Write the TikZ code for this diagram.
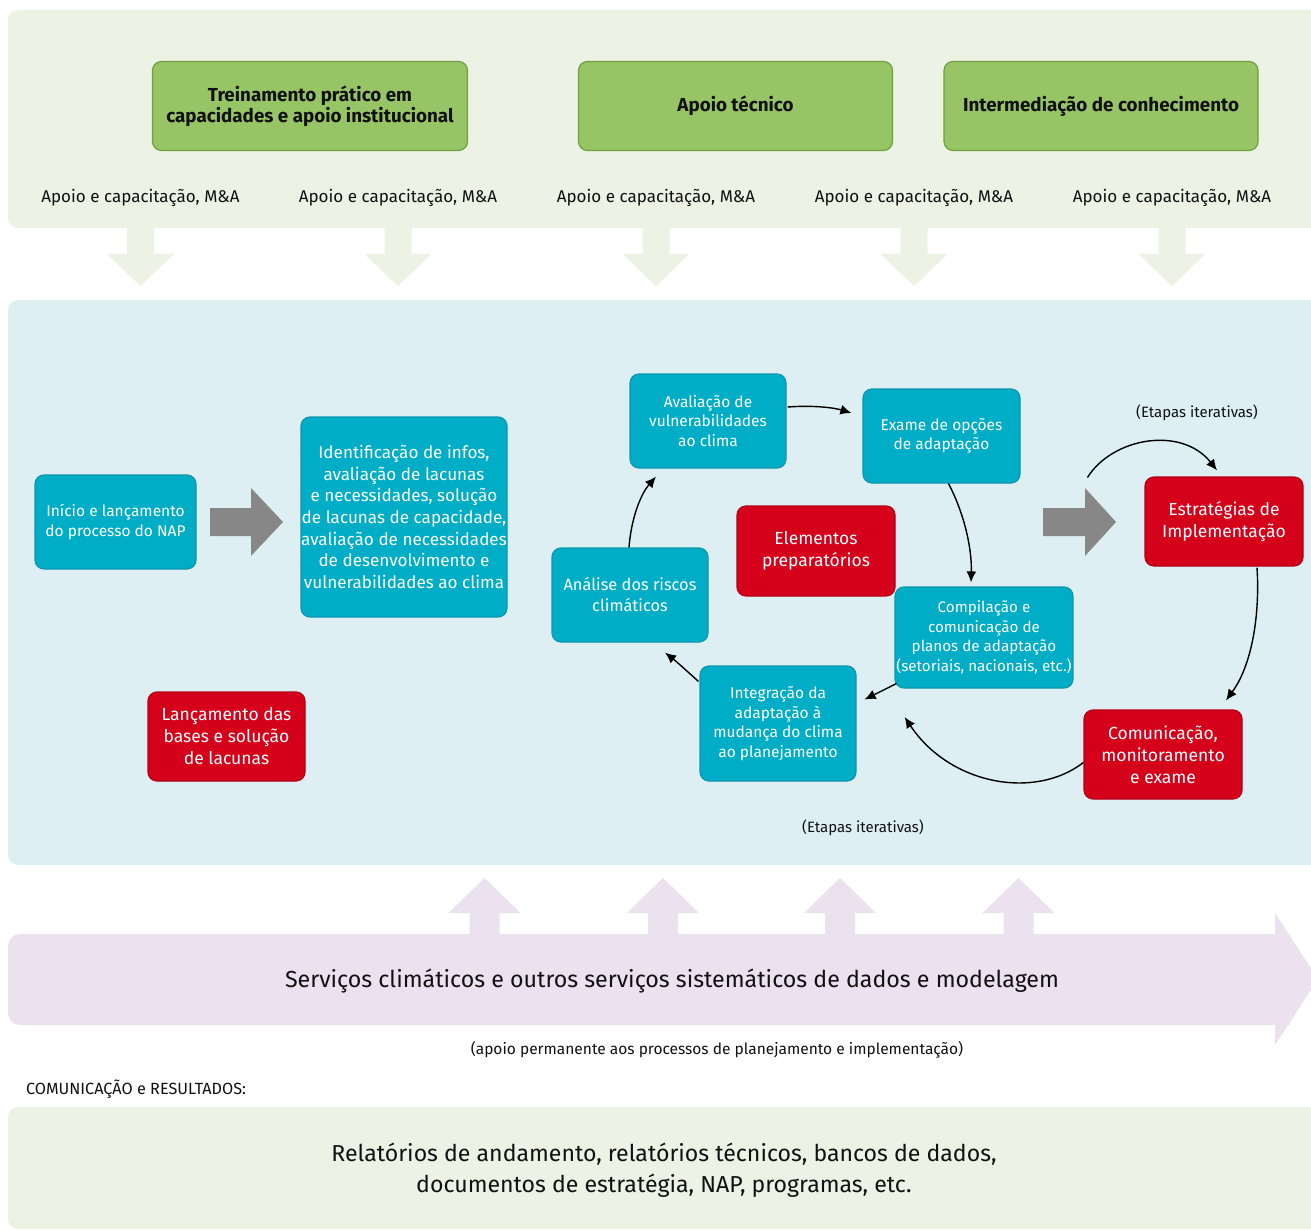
\documentclass[tikz,border=0pt]{standalone}
\usepackage{fontspec}
\setmainfont{Fira Sans}
\usetikzlibrary{arrows.meta,calc}
\definecolor{panelgreen}{HTML}{ECF2E4}
\definecolor{boxgreen}{HTML}{97C465}
\definecolor{boxgreenline}{HTML}{6FA042}
\definecolor{panelblue}{HTML}{DDEFF3}
\definecolor{napteal}{HTML}{00ADC6}
\definecolor{naptealline}{HTML}{0E97AD}
\definecolor{napred}{HTML}{D50019}
\definecolor{napredline}{HTML}{B30015}
\definecolor{napgray}{HTML}{878787}
\definecolor{nappurple}{HTML}{EBE1EF}
\definecolor{naptext}{HTML}{111111}
\newcommand\napfA{\fontsize{17.1}{21.7}\selectfont}
\newcommand\napfB{\fontsize{15.5}{19.6}\selectfont}
\newcommand\napfBs{\fontsize{15.2}{19.6}\selectfont}
\newcommand\napfC{\fontsize{15.5}{20.5}\selectfont}
\newcommand\napfR{\fontsize{16.4}{21}\selectfont}
\newcommand\napfD{\fontsize{17.5}{22}\selectfont}
\newcommand\napfE{\fontsize{17}{21}\selectfont}
\newcommand\napfH{\fontsize{18.8}{21}\selectfont}
\newcommand\napfS{\fontsize{15}{18}\selectfont}
\newcommand\napfL{\fontsize{23.1}{31}\selectfont}
\tikzset{
  basebox/.style={rounded corners=9pt, align=center, inner sep=0pt, line width=1.2pt},
  tealbox/.style={basebox, draw=naptealline, fill=napteal, text=white},
  redbox/.style={basebox, draw=napredline, fill=napred, text=white},
  greenbox/.style={basebox, draw=boxgreenline, fill=boxgreen, text=naptext, font=\napfH\bfseries},
  plain/.style={text=naptext, inner sep=0pt},
  link/.style={line width=1.4pt, -{Latex[length=11pt,width=10pt]}},
}
\begin{document}
\begin{tikzpicture}[x=1pt,y=-1pt]
\useasboundingbox (0,0) rectangle (1311,1230);
\fill[white] (0,0) rectangle (1311,1230);
% top panel
\fill[panelgreen, rounded corners=10pt] (8,10) rectangle (1340,228);
\foreach \c in {140.5,398,656,914,1172}{
  \fill[panelgreen] (\c-13.5,220) -- (\c+13.5,220) -- (\c+13.5,254) -- (\c+33.5,254)
     -- (\c,286) -- (\c-33.5,254) -- (\c-13.5,254) -- cycle;
}
% blue panel
\fill[panelblue, rounded corners=10pt] (8,300) rectangle (1340,865);
% purple arrow
\foreach \c in {484.5,663,840,1018.5}{
  \fill[nappurple] (\c-15,940) -- (\c-15,913) -- (\c-36,913) -- (\c,878) -- (\c+36,913) -- (\c+15,913) -- (\c+15,940) -- cycle;
}
\fill[nappurple, rounded corners=12pt] (1290,934) -- (8,934) -- (8,1025) -- (1290,1025);
\fill[nappurple] (1274,934) -- (1275,934) -- (1275,913) -- (1318,979) -- (1275,1045) -- (1275,1025) -- (1274,1025) -- cycle;
% bottom panel
\fill[panelgreen, rounded corners=10pt] (8,1107) rectangle (1340,1229);

% green header boxes
\node[greenbox, minimum width=315pt, minimum height=89pt] (treino) at (310,106) {Treinamento prático em\\capacidades e apoio institucional};
\node[greenbox, minimum width=314pt, minimum height=89pt] (tecnico) at (735.5,106) {Apoio técnico};
\node[greenbox, minimum width=314pt, minimum height=89pt] (interm) at (1101,106) {Intermediação de conhecimento};
\foreach \c/\n in {140.5/a1,398/a2,656/a3,914/a4,1172/a5}{
  \node[plain, font=\napfE] (\n) at (\c,198) {Apoio e capacitação, M\&A};
}

% gray arrows
\fill[napgray] (210,508) -- (251,508) -- (251,488) -- (283,522) -- (251,556) -- (251,536) -- (210,536) -- cycle;
\fill[napgray] (1043,508) -- (1085,508) -- (1085,488) -- (1116,522) -- (1085,556) -- (1085,536) -- (1043,536) -- cycle;

% process boxes
\node[tealbox, minimum width=161pt, minimum height=94pt, font=\napfC] (inicio) at (115.5,522) {Início e lançamento\\do processo do NAP};
\node[tealbox, minimum width=206pt, minimum height=200pt, font=\napfA] (ident) at (404,517) {Identificação de infos,\\avaliação de lacunas\\e necessidades, solução\\de lacunas de capacidade,\\avaliação de necessidades\\de desenvolvimento e\\vulnerabilidades ao clima};
\node[redbox, minimum width=157pt, minimum height=89pt, font=\napfD] (lanc) at (226.5,736.5) {Lançamento das\\bases e solução\\de lacunas};
\node[tealbox, minimum width=156pt, minimum height=94pt, font=\napfB] (aval) at (708,421) {Avaliação de\\vulnerabilidades\\ao clima};
\node[tealbox, minimum width=157pt, minimum height=94pt, font=\napfB] (exame) at (941.5,436) {Exame de opções\\de adaptação};
\node[tealbox, minimum width=156pt, minimum height=94pt, font=\napfR] (analise) at (630,595) {Análise dos riscos\\climáticos};
\node[redbox, minimum width=158pt, minimum height=90pt, font=\napfD] (elem) at (816,551) {Elementos\\preparatórios};
\node[tealbox, minimum width=178pt, minimum height=101pt, font=\napfBs] (comp) at (984,637.5) {Compilação e\\comunicação de\\planos de adaptação\\(setoriais, nacionais, etc.)};
\node[tealbox, minimum width=156pt, minimum height=115pt, font=\napfB] (integ) at (778,723.5) {Integração da\\adaptação à\\mudança do clima\\ao planejamento};
\node[redbox, minimum width=158pt, minimum height=89pt, font=\napfD] (estr) at (1224,521.5) {Estratégias de\\Implementação};
\node[redbox, minimum width=158pt, minimum height=89pt, font=\napfD] (comm) at (1163,754.5) {Comunicação,\\monitoramento\\e exame};

\node[plain, font=\napfS] (iter1) at (1197,413) {(Etapas iterativas)};
\node[plain, font=\napfS] (iter2) at (863,828) {(Etapas iterativas)};

% connectors
\draw[link] ($(aval.east)+(1,-14)$) .. controls (815,405) and (835,408) .. ($(exame.west)+(-11,-23)$);
\draw[link] ($(exame.south)+(7,0)$) .. controls (965,515) and (972,550) .. ($(comp.north)+(-13,-4)$);
\draw[link] ($(comp.south west)+(2,-5)$) -- ($(integ.east)+(8,-24)$);
\draw[link] ($(integ.north west)+(-1,16)$) .. controls (688,672) and (677,662) .. ($(analise.south)+(35,10)$);
\draw[link] ($(analise.north)+(-1,0)$) .. controls (631,520) and (640,495) .. ($(aval.south)+(-52,8)$);
\draw[link] ($(comm.west)+(0,8)$) .. controls (1035,800) and (950,785) .. ($(integ.east)+(48,-6.5)$);
\draw[link] ($(estr.west)+(-57,-44)$) .. controls (1113,437) and (1182,426) .. ($(estr.north)+(-7,-6)$);
\draw[link] ($(estr.south)+(33,1)$) .. controls (1260,615) and (1252,665) .. ($(comm.north)+(63,-9)$);

% bottom texts
\node[plain, font=\fontsize{23.2}{28}\selectfont] (serv) at (672,981) {Serviços climáticos e outros serviços sistemáticos de dados e modelagem};
\node[plain, font=\fontsize{15.5}{18}\selectfont] (apoioperm) at (717,1050) {(apoio permanente aos processos de planejamento e implementação)};
\node[plain, font=\fontsize{16.2}{19}\selectfont, anchor=west] (comres) at (26,1089) {COMUNICAÇÃO e RESULTADOS:};
\node[plain, font=\napfL, align=center] (rel) at (664,1170.5) {Relatórios de andamento, relatórios técnicos, bancos de dados,\\documentos de estratégia, NAP, programas, etc.};
\end{tikzpicture}
\end{document}
